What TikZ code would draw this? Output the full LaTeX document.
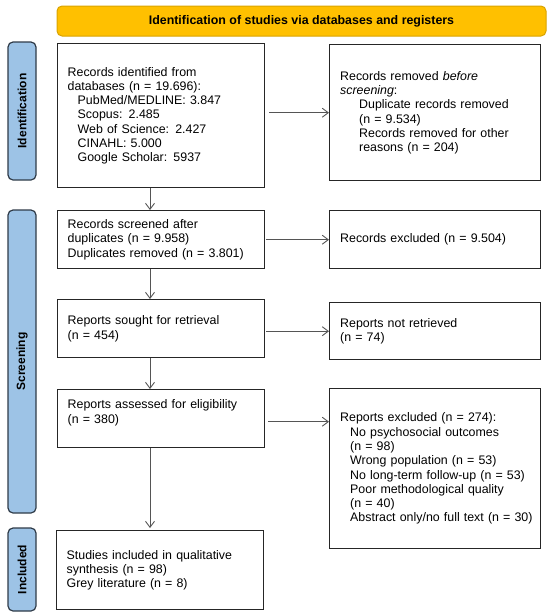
\documentclass[tikz,border=0pt]{standalone}
\usepackage{fontspec}
\setmainfont{Liberation Sans}
\usetikzlibrary{arrows.meta,calc}
\definecolor{gold}{HTML}{FFC000}
\definecolor{golddraw}{HTML}{D9A300}
\definecolor{sideblue}{HTML}{9DC3E6}
\definecolor{sidedraw}{HTML}{2F3B48}
\definecolor{arrgray}{HTML}{555555}
\begin{document}
\begin{tikzpicture}[x=1pt,y=-1pt,
  pbox/.style={draw=black!85, line width=1.4pt, fill=white, inner xsep=10pt, inner ysep=0pt,
    align=left, anchor=north west, text width=187pt,
    font=\fontsize{12.4}{14.3}\selectfont},
  rbox/.style={pbox, inner xsep=10.5pt, text width=190pt},
  side/.style={draw=sidedraw, line width=1.2pt, fill=sideblue, rounded corners=5pt,
    rotate=90, minimum height=28pt, inner sep=0pt, font=\fontsize{12}{14}\selectfont\bfseries},
  banner/.style={draw=golddraw, line width=1pt, fill=gold, rounded corners=5pt,
    minimum width=489pt, minimum height=30pt, inner sep=0pt, font=\fontsize{12.4}{14}\selectfont\bfseries},
  arr/.style={draw=arrgray, line width=0.9pt, -{Straight Barb[length=6pt,width=9pt]}}
]
\useasboundingbox (0,0) rectangle (550,614);

\node[banner] (ban) at (301.5,21) {Identification of studies via databases and registers};

\node[side, minimum width=138pt] (s1) at (22,111) {Identification};
\node[side, minimum width=303pt] (s2) at (22,361.5) {Screening};
\node[side, minimum width=83pt] (s3) at (22,569.5) {Included};

\node[pbox, minimum height=144pt] (b1) at (57,43) {Records identified from\\
databases (n = 19.696):\\
\hspace*{10pt}PubMed/MEDLINE: 3.847\\
\hspace*{10pt}Scopus: 2.485\\
\hspace*{10pt}Web of Science: 2.427\\
\hspace*{10pt}CINAHL: 5.000\\
\hspace*{10pt}Google Scholar: 5937};

\node[rbox, minimum height=136pt] (r1) at (329,44) {Records removed \textit{before}\\
\textit{screening}:\\
\hspace*{19pt}Duplicate records removed\\
\hspace*{19pt}(n = 9.534)\\
\hspace*{19pt}Records removed for other\\
\hspace*{19pt}reasons (n = 204)};

\node[pbox, minimum height=58pt] (b2) at (57,210) {Records screened after\\
duplicates (n = 9.958)\\
Duplicates removed (n = 3.801)};

\node[rbox, minimum height=58pt] (r2) at (329,210) {Records excluded (n = 9.504)};

\node[pbox, minimum height=58pt] (b3) at (57,299) {Reports sought for retrieval\\
(n = 454)};

\node[rbox, minimum height=57pt] (r3) at (329,302) {Reports not retrieved\\
(n = 74)};

\node[pbox, minimum height=58pt] (b4) at (57,389) {Reports assessed for eligibility\\
(n = 380)\\ \mbox{}};

\node[rbox, minimum height=160pt] (r4) at (329,388) {Reports excluded (n = 274):\\
\hspace*{10pt}No psychosocial outcomes\\
\hspace*{10pt}(n = 98)\\
\hspace*{10pt}Wrong population (n = 53)\\
\hspace*{10pt}\mbox{No long-term follow-up (n = 53)}\\
\hspace*{10pt}Poor methodological quality\\
\hspace*{10pt}(n = 40)\\
\hspace*{10pt}\mbox{Abstract only/no full text (n = 30)}};

\node[pbox, minimum height=79pt] (b5) at (56,530) {Studies included in qualitative\\
synthesis (n = 98)\\
Grey literature (n = 8)};

\coordinate (vx) at (150,0);

\draw[arr] (b1.south -| vx) -- (b2.north -| vx);
\draw[arr] (b2.south -| vx) -- (b3.north -| vx);
\draw[arr] (b3.south -| vx) -- (b4.north -| vx);
\draw[arr] (b4.south -| vx) -- ([yshift=2pt]b5.north -| vx);

\draw[arr] ([xshift=4pt]b1.east |- r1.west) -- (r1.west);
\draw[arr] ([xshift=1pt]b2.east) -- (b2.east -| r2.west);
\draw[arr] ([xshift=1pt]b3.east |- r3.west) -- (r3.west);
\draw[arr] ([xshift=3pt,yshift=-3pt]b4.east) -- ([yshift=-3pt]b4.east -| r4.west);
\end{tikzpicture}
\end{document}
